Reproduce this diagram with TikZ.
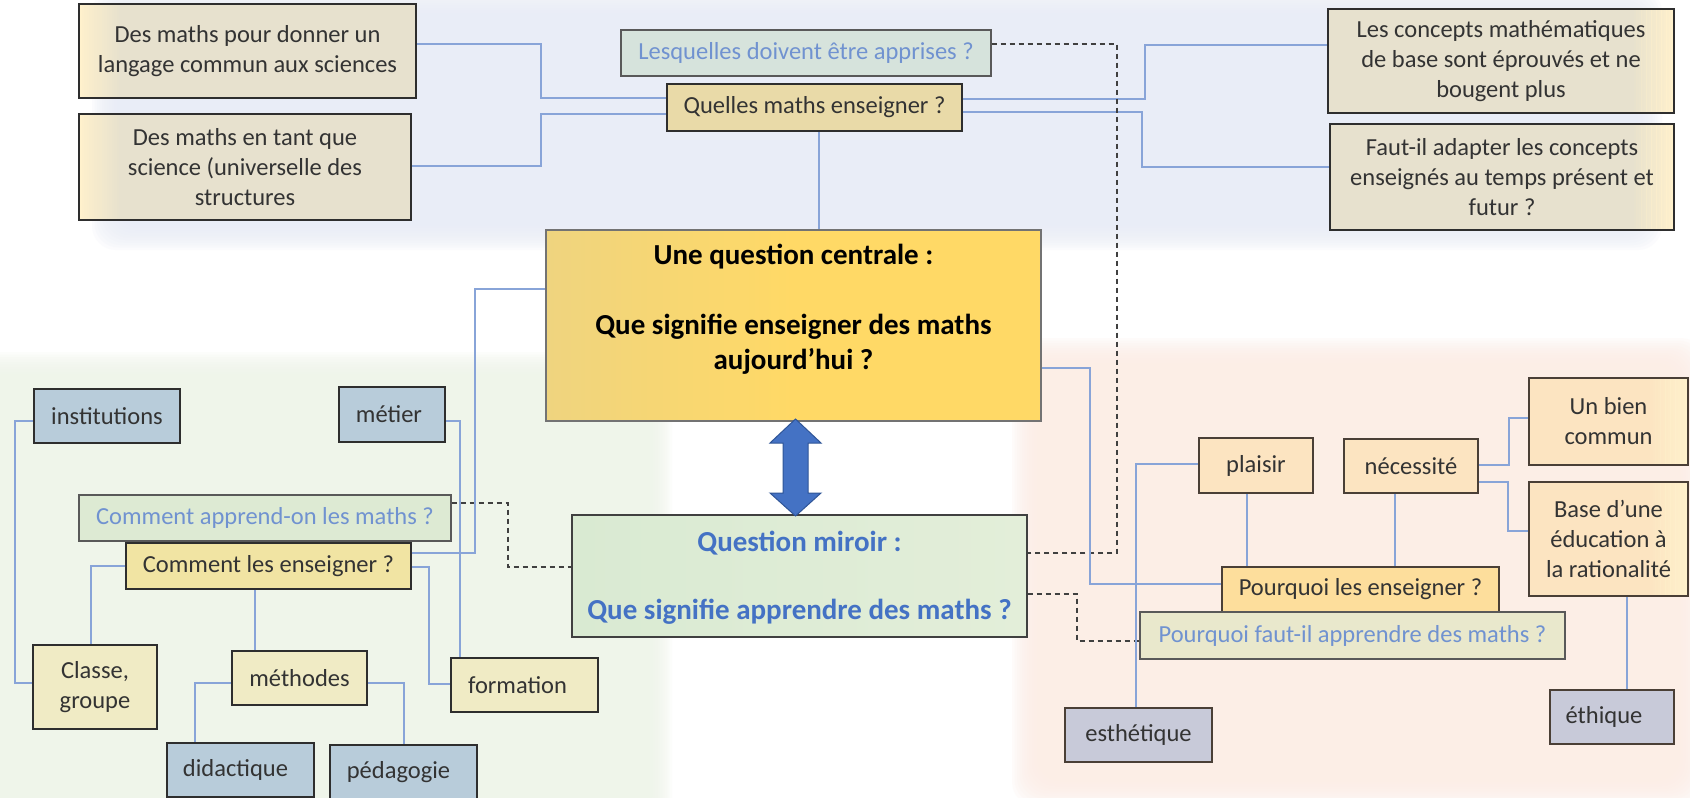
\documentclass[tikz,border=0pt]{standalone}
\usepackage{fontspec}
\setmainfont{Carlito}
\definecolor{bgBlue}{HTML}{E9EDF7}
\definecolor{bgGreen}{HTML}{EFF5EA}
\definecolor{bgPeach}{HTML}{FCEEE6}
\definecolor{beige}{HTML}{E7E1CE}
\definecolor{glowY}{HTML}{FFF1CC}
\definecolor{lesqF}{HTML}{D6E3DC}
\definecolor{quelF}{HTML}{E9DAA8}
\definecolor{blueF}{HTML}{B8CCDA}
\definecolor{capF}{HTML}{DDEAD3}
\definecolor{cleF}{HTML}{F1E4A3}
\definecolor{paleY}{HTML}{F0EBC5}
\definecolor{peachF}{HTML}{FCE4C1}
\definecolor{pleF}{HTML}{FDDE9C}
\definecolor{pfF}{HTML}{E9E8CC}
\definecolor{lavF}{HTML}{C8CAD9}
\definecolor{txtDark}{HTML}{333333}
\definecolor{txtLight}{HTML}{7092D0}
\definecolor{miroir}{HTML}{4472C4}
\definecolor{connC}{HTML}{88A4D8}
\definecolor{dashC}{HTML}{404040}
\definecolor{arrowF}{HTML}{4472C4}
\definecolor{arrowD}{HTML}{2F5597}
\definecolor{borderD}{HTML}{2E2E2E}
\definecolor{borderB}{HTML}{4A3F36}
\definecolor{ctrL}{HTML}{EFD47F}
\definecolor{ctrR}{HTML}{FFD966}
\definecolor{mirL}{HTML}{D9EAD2}
\definecolor{mirR}{HTML}{E3EED9}
\newcommand\softregion[5]{%
  \foreach \k in {0,...,15}{%
    \fill[#1, opacity=0.18, rounded corners=24pt] ({#2+\k*2.5},{#3+\k*2.5}) rectangle ({#4-\k*2.5},{#5-\k*2.5});
  }%
  \fill[#1, rounded corners=10pt] ({#2+40},{#3+40}) rectangle ({#4-40},{#5-40});
}
\tikzset{
  box/.style={draw=borderD, line width=2.2pt, inner sep=0pt, align=center, text=txtDark, font=\fontsize{24.5}{30}\selectfont},
  thinbox/.style={box, draw=black!65, line width=1.3pt},
  conn/.style={draw=connC, line width=1.2pt},
  dconn/.style={draw=dashC, line width=1.4pt, dash pattern=on 5pt off 4pt},
  glowL/.style={path picture={%
    \foreach \i [evaluate=\i as \op using {1-\i/16}] in {0,...,15}{%
      \fill[glowY, opacity=\op] ([xshift=\i*2.5pt]path picture bounding box.north west) rectangle ([xshift=\i*2.5pt+2.6pt]path picture bounding box.south west);}}},
  glowR/.style={path picture={%
    \foreach \i [evaluate=\i as \op using {1-\i/16}] in {0,...,15}{%
      \fill[glowY, opacity=\op] ([xshift=-\i*2.5pt]path picture bounding box.north east) rectangle ([xshift=-\i*2.5pt-2.6pt]path picture bounding box.south east);}}},
  bigtext/.style={inner sep=0pt, align=center, anchor=north, font=\bfseries\fontsize{29}{35}\selectfont}
}
\begin{document}
\begin{tikzpicture}[x=1pt,y=-1pt]
\useasboundingbox (0,0) rectangle (1690,798);
\fill[white] (0,0) rectangle (1690,798);
% background regions
\softregion{bgBlue}{92}{-12}{1662}{250}
\softregion{bgGreen}{-40}{352}{672}{840}
\softregion{bgPeach}{1012}{338}{1705}{806}

% top cluster
\node[box, fill=beige, glowL, minimum width=337pt, minimum height=94pt] (A) at (247.5,51) {Des maths pour donner un\\langage commun aux sciences};
\node[box, fill=beige, glowL, minimum width=332pt, minimum height=106pt] (B) at (245,167) {Des maths en tant que\\science (universelle des\\structures};
\node[thinbox, fill=lesqF, text=txtLight, minimum width=370pt, minimum height=46pt] (L) at (806,53) {Lesquelles doivent être apprises ?};
\node[box, line width=1.6pt, fill=quelF, minimum width=295pt, minimum height=47pt] (Q) at (814.5,107.5) {Quelles maths enseigner ?};
\node[box, fill=beige, glowR, minimum width=346pt, minimum height=104pt] (C) at (1501,61) {Les concepts mathématiques\\de base sont éprouvés et ne\\bougent plus};
\node[box, fill=beige, glowR, minimum width=344pt, minimum height=106pt] (D) at (1502,177) {Faut-il adapter les concepts\\enseignés au temps présent et\\futur ?};

% central
\node[draw=black!55, line width=1.3pt, left color=ctrL, right color=ctrR, middle color=ctrR, minimum width=495pt, minimum height=191pt, inner sep=0pt] (Ctr) at (793.5,325.5) {};
\node[bigtext, text=black] (CtrT) at (793.5,244) {Une question centrale :\\[35pt]Que signifie enseigner des maths\\aujourd’hui ?};
\node[draw=black!75, line width=1.3pt, left color=mirL, right color=mirR, minimum width=455pt, minimum height=122pt, inner sep=0pt] (M) at (799.5,576) {};
\node[bigtext, text=miroir] (MT) at (799.5,531) {Question miroir :\\[33pt]Que signifie apprendre des maths ?};
\fill[arrowF, draw=arrowD, line width=1pt] (795.5,419) -- (821,443) -- (808,443) -- (808,493) -- (821,493) -- (795.5,516) -- (770,493) -- (783,493) -- (783,443) -- (770,443) -- cycle;

% left cluster
\node[box, fill=blueF, minimum width=146pt, minimum height=54pt] (I) at (107,416) {institutions};
\node[box, fill=blueF, minimum width=106pt, minimum height=55pt] (Me) at (392,414.5) {\hspace*{-6pt}métier};
\node[thinbox, fill=capF, text=txtLight, minimum width=372pt, minimum height=46pt] (CA) at (265,518) {Comment apprend-on les maths ?};
\node[box, line width=1.5pt, fill=cleF, minimum width=285pt, minimum height=46pt] (CE) at (268.5,566) {Comment les enseigner ?};
\node[box, fill=paleY, minimum width=124pt, minimum height=84pt] (CG) at (95,687) {Classe,\\groupe};
\node[box, fill=paleY, minimum width=135pt, minimum height=54pt] (Mt) at (299.5,678) {méthodes};
\node[box, fill=paleY, minimum width=147pt, minimum height=54pt] (F) at (524.5,685) {\hspace*{-14pt}formation};
\node[box, fill=blueF, minimum width=147pt, minimum height=54pt] (Di) at (240.5,770) {\hspace*{-10pt}didactique};
\node[box, fill=blueF, minimum width=147pt, minimum height=55pt] (Pe) at (403.5,772.5) {\hspace*{-10pt}pédagogie};

% right cluster
\node[box, draw=borderB, fill=peachF, minimum width=114pt, minimum height=55pt] (Pl) at (1256,465.5) {plaisir};
\node[box, draw=borderB, fill=peachF, minimum width=134pt, minimum height=54pt] (N) at (1411,466) {nécessité};
\node[box, draw=borderB, fill=peachF, glowR, minimum width=159pt, minimum height=87pt] (U) at (1608.5,421.5) {Un bien\\commun};
\node[box, draw=borderB, fill=peachF, glowR, minimum width=159pt, minimum height=114pt] (B2) at (1608.5,539) {Base d’une\\éducation à\\la rationalité};
\node[box, draw=borderB, line width=1.5pt, fill=pleF, minimum width=277pt, minimum height=45pt] (PE) at (1360.5,589.5) {Pourquoi les enseigner ?};
\node[thinbox, fill=pfF, text=txtLight, minimum width=425pt, minimum height=47pt] (PF) at (1352.5,635.5) {Pourquoi faut-il apprendre des maths ?};
\node[box, draw=borderB, fill=lavF, minimum width=147pt, minimum height=54pt] (Es) at (1138.5,735) {esthétique};
\node[box, draw=borderB, fill=lavF, minimum width=124pt, minimum height=54pt] (Et) at (1612,717) {\hspace*{-16pt}éthique};

% connectors top
\draw[conn] (A.east |- 0,44) -- (541,44) |- (Q.west |- 0,98);
\draw[conn] (B.east |- 0,166) -- (541,166) |- (Q.west |- 0,114);
\draw[conn] (Q.east |- 0,99) -- (1145,99) |- (C.west |- 0,45);
\draw[conn] (Q.east |- 0,112) -- (1142,112) |- (D.west |- 0,167);
\draw[conn] (Q.south -| 819,0) -- (Ctr.north -| 819,0);
% dashed
\draw[dconn] (L.east |- 0,44) -- (1117,44) |- (M.east |- 0,553);
\draw[dconn] (M.east |- 0,594) -- (1077,594) |- (PF.west |- 0,641);
\draw[dconn] (CA.east |- 0,503) -- (508,503) |- (M.west |- 0,567);
% central links
\draw[conn] (Ctr.east |- 0,368) -- (1090,368) |- (PE.west |- 0,584);
\draw[conn] (CE.east |- 0,553) -- (475,553) |- (Ctr.west |- 0,289);
% left links
\draw[conn] (I.west |- 0,421) -- (15,421) |- (CG.west |- 0,683);
\draw[conn] (CE.west |- 0,566) -| (CG.north -| 91,0);
\draw[conn] (CE.south -| 255,0) -- (Mt.north -| 255,0);
\draw[conn] (Mt.west |- 0,683) -| (Di.north -| 195,0);
\draw[conn] (Mt.east |- 0,683) -| (Pe.north -| 404,0);
\draw[conn] (CE.east |- 0,567) -- (429,567) |- (F.west |- 0,684);
\draw[conn] (Me.east |- 0,421) -| (F.north -| 460,0);
% right links
\draw[conn] (Pl.west |- 0,464) -| (Es.north -| 1136,0);
\draw[conn] (Pl.south -| 1247,0) -- (PE.north -| 1247,0);
\draw[conn] (N.south -| 1395,0) -- (PE.north -| 1395,0);
\draw[conn] (N.east |- 0,465) -- (1509,465) |- (U.west |- 0,418);
\draw[conn] (N.east |- 0,482) -- (1508,482) |- (B2.west |- 0,531);
\draw[conn] (B2.south -| 1627,0) -- (Et.north -| 1627,0);
\end{tikzpicture}
\end{document}
